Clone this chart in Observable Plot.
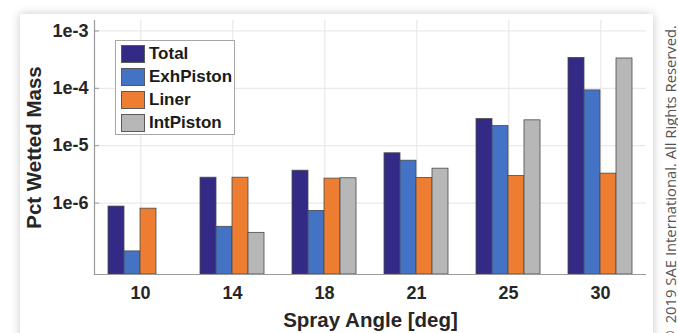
<!DOCTYPE html>
<html><head><meta charset="utf-8">
<script src="https://cdn.jsdelivr.net/npm/d3@7"></script>
<script src="https://cdn.jsdelivr.net/npm/@observablehq/plot@0.6"></script>
<style>
html,body{margin:0;padding:0;background:#fff;width:678px;height:333px;overflow:hidden;}
body{position:relative;}
#panel{position:absolute;left:20px;top:14px;width:633px;height:345px;background:#fff;box-shadow:0 0 9px rgba(0,0,0,0.22);}
#chart{position:absolute;left:0;top:0;}
#chart svg g[aria-label$="axis label"]{font-size:20.5px;}
#legend{position:absolute;left:115px;top:40px;width:120px;height:95px;border:1px solid #a6a6a6;background:#fff;box-sizing:border-box;font:bold 17px "Liberation Sans",Arial,sans-serif;color:#1a1a1a;}
#legend .row{position:absolute;left:5px;display:flex;align-items:center;height:18px;}
#legend .sw{width:22px;height:16px;border:1px solid #5a5a5a;margin-right:4px;}
#copy{position:absolute;left:663px;top:25px;writing-mode:vertical-rl;transform:rotate(180deg);font:14.8px "Open Sans",sans-serif;color:#555;line-height:15px;white-space:nowrap;}
</style>
</head><body>
<div id="panel"></div>
<div id="chart"></div>
<div id="legend"></div>
<div id="copy">© 2019 SAE International. All Rights Reserved.</div>
<script>
const angles = ["10", "14", "18", "21", "25", "30"];
const series = ["Total", "ExhPiston", "Liner", "IntPiston"];
const total     = [8.7e-7, 2.77e-6, 3.67e-6, 7.38e-6, 2.91e-5, 3.39e-4];
const exhPiston = [1.44e-7, 3.86e-7, 7.31e-7, 5.48e-6, 2.20e-5, 9.2e-5];
const liner     = [8.0e-7, 2.77e-6, 2.67e-6, 2.74e-6, 2.97e-6, 3.26e-6];
const intPiston = [null, 3.03e-7, 2.71e-6, 3.98e-6, 2.77e-5, 3.31e-4];
const colors = ["#332a86", "#4472c4", "#ed7d31", "#b7b7b7"];
const yTicks = [1e-3, 1e-4, 1e-5, 1e-6];
const yTickLabels = ["1e-3", "1e-4", "1e-5", "1e-6"];
const yDomain = [5.7e-8, 1.52e-3];
const xTitle = "Spray Angle [deg]";
const yTitle = "Pct Wetted Mass";

const seriesValues = [total, exhPiston, liner, intPiston];
const rows = [];
angles.forEach((a, i) => series.forEach((s, j) => {
  const v = seriesValues[j][i];
  if (v != null) rows.push({angle: a, series: s, value: v});
}));

// layout
const W = 678, H = 333, mL = 92, mR = 30, mT = 20, mB = 59, outerPad = 0.77;
const facetW = (W - mL - mR) / angles.length;
const barStep = facetW / (series.length + 2 * outerPad);
// facet-centre grid line: half a bar step right of the 2nd bar's centre
const gridDx = barStep / 2;

const chart = Plot.plot({
  width: W, height: H,
  marginLeft: mL, marginRight: mR, marginTop: mT, marginBottom: mB,
  fx: {domain: angles, padding: 0, label: xTitle},
  x: {domain: series, paddingInner: 0, paddingOuter: outerPad, axis: null},
  y: {type: "log", domain: yDomain, label: yTitle},
  color: {domain: series, range: colors},
  style: {fontFamily: "'Liberation Sans', Arial, sans-serif", fontWeight: "bold", fontSize: "18px", color: "#262626", background: "transparent", overflow: "visible"},
  marks: [
    Plot.gridY(yTicks, {stroke: "#e4e4e4", strokeOpacity: 1}),
    Plot.ruleX(angles, {fx: d => d, x: () => series[1], dx: gridDx, stroke: "#e4e4e4", strokeOpacity: 1}),
    Plot.barY(rows, {fx: "angle", x: "series", y1: yDomain[0], y2: "value", fill: "series", stroke: "#4a4a4a", strokeWidth: 0.8}),
    Plot.ruleY([yDomain[0]], {stroke: "#9a9a9a", strokeWidth: 1.2}),
    Plot.frame({anchor: "left", facetAnchor: "left", stroke: "#9a9a9a", strokeWidth: 1.2}),
    Plot.axisY(yTicks, {tickSize: -5, tickPadding: 11, stroke: "#9a9a9a", tickFormat: d => yTickLabels[yTicks.indexOf(d)], label: yTitle, labelArrow: "none", labelAnchor: "center", labelOffset: 68}),
    Plot.axisFx({anchor: "bottom", tickSize: 0, tickPadding: 12, label: xTitle, labelArrow: "none", labelAnchor: "center", labelOffset: 52})
  ]
});
document.getElementById("chart").appendChild(chart);

const legend = document.getElementById("legend");
series.forEach((s, i) => {
  const row = document.createElement("div");
  row.className = "row";
  row.style.top = (4 + 23 * i) + "px";
  const sw = document.createElement("div");
  sw.className = "sw";
  sw.style.background = colors[i];
  const t = document.createElement("span");
  t.textContent = s;
  row.appendChild(sw); row.appendChild(t);
  legend.appendChild(row);
});
</script>
</body></html>
